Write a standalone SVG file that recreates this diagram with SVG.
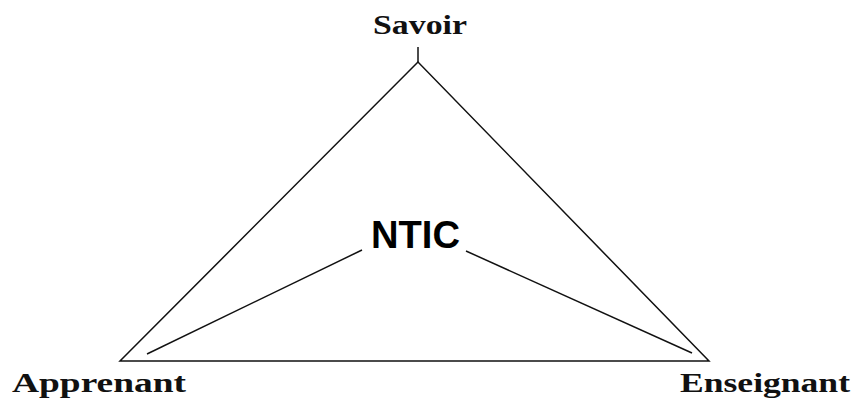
<svg xmlns="http://www.w3.org/2000/svg" width="855" height="403" viewBox="0 0 855 403">
<style>
.lbl{font-family:"Liberation Serif","Times New Roman",serif;font-weight:bold;font-size:27px;fill:#111}
.ntic{font-family:"Liberation Sans",Arial,sans-serif;font-weight:bold;font-size:38px;fill:#000}
.ln{stroke:#111;stroke-width:1.5;fill:none}
</style>
<rect width="855" height="403" fill="#fff"/>
<g id="connectors">
<polygon class="ln" points="418,62 120,361 709,361"/>
<line class="ln" x1="418" y1="47" x2="418" y2="62"/>
<line class="ln" x1="362" y1="250" x2="147" y2="354"/>
<line class="ln" x1="466" y1="251" x2="692" y2="353"/>
</g>
<g id="savoir"><text class="lbl" x="373" y="34" textLength="94" lengthAdjust="spacingAndGlyphs">Savoir</text></g>
<g id="ntic"><text class="ntic" x="371" y="248" textLength="89" lengthAdjust="spacingAndGlyphs">NTIC</text></g>
<g id="apprenant"><text class="lbl" x="12" y="392" textLength="174" lengthAdjust="spacingAndGlyphs">Apprenant</text></g>
<g id="enseignant"><text class="lbl" x="680" y="392" textLength="170" lengthAdjust="spacingAndGlyphs">Enseignant</text></g>
</svg>
